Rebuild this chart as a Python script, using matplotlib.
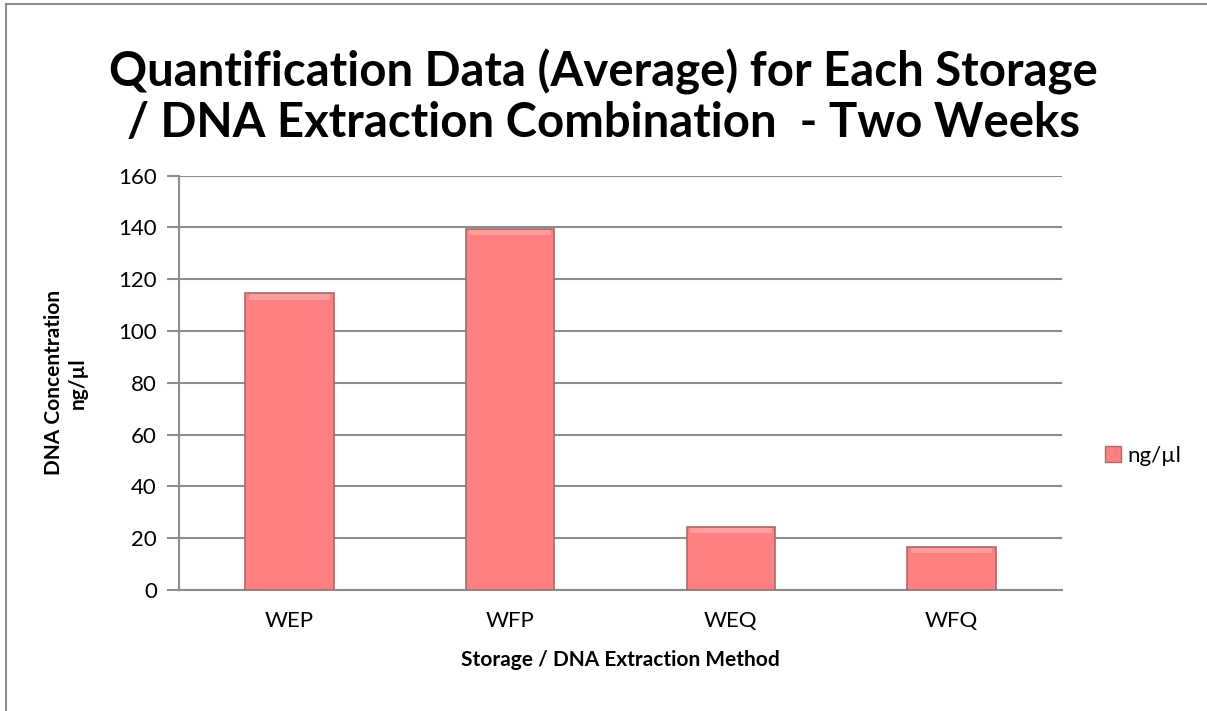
import matplotlib.pyplot as plt
import matplotlib.patches as mpatches
from matplotlib.lines import Line2D

categories = ['WEP', 'WFP', 'WEQ', 'WFQ']
values = [114.5, 139.5, 24.5, 16.5]
series_name = 'ng/µl'
y_ticks = [0, 20, 40, 60, 80, 100, 120, 140, 160]

plt.rcParams['font.family'] = ['Lato', 'DejaVu Sans']

fig = plt.figure(figsize=(12.07, 7.11), dpi=100)
ax = fig.add_axes([179 / 1207, 1 - 590 / 711, (1062 - 179) / 1207, (590 - 175.5) / 711])

x = range(len(categories))
bars = ax.bar(x, values, width=0.4, color='#FF8080', edgecolor='#A86A6A', linewidth=1.2, zorder=3)
# light bevel strip along the top of each bar
for b in bars:
    ax.add_patch(mpatches.Rectangle((b.get_x() + 0.015, b.get_height() - 2.4), b.get_width() - 0.03, 2.0,
                                    color='#FF9E9E', lw=0, zorder=4))

ax.set_xlim(-0.5, len(categories) - 0.5)
ax.set_ylim(0, 160)
ax.set_yticks(y_ticks)
ax.set_xticks(list(x))
ax.set_xticklabels(categories)
ax.yaxis.grid(True, color='#8C8C8C', linewidth=1.5, zorder=0)
ax.set_axisbelow(True)
for s in ['top', 'right']:
    ax.spines[s].set_visible(False)
ax.spines['left'].set_color('#8C8C8C')
ax.spines['left'].set_linewidth(1.5)
ax.spines['bottom'].set_color('#8C8C8C')
ax.spines['bottom'].set_linewidth(1.5)
ax.tick_params(axis='y', length=9, width=1.5, color='#8C8C8C', labelsize=16, pad=7)
ax.tick_params(axis='x', length=0, labelsize=16, pad=15)

ax.set_xlabel('Storage / DNA Extraction Method', fontsize=15, fontweight='bold', labelpad=14)
ax.set_ylabel('DNA Concentration\nng/µl', fontsize=15, fontweight='bold', labelpad=22)

fig.text(0.5, 1 - 97 / 711, 'Quantification Data (Average) for Each Storage\n/ DNA Extraction Combination  - Two Weeks',
         ha='center', va='center', fontsize=34, fontweight='bold', linespacing=1.15)

handle = mpatches.Patch(facecolor='#FF8080', edgecolor='#A86A6A', label=series_name)
fig.legend(handles=[handle], loc='center left', bbox_to_anchor=(1085 / 1207, 1 - 456 / 711),
           frameon=False, fontsize=16, handlelength=0.7, handleheight=0.7, handletextpad=0.3)

# outer chart border (top and left only, the rest is cut off)
fig.add_artist(Line2D([6 / 1207, 1.0], [1 - 4 / 711, 1 - 4 / 711], transform=fig.transFigure,
                      color='#8C8C8C', linewidth=1.5))
fig.add_artist(Line2D([6 / 1207, 6 / 1207], [0, 1 - 4 / 711], transform=fig.transFigure,
                      color='#8C8C8C', linewidth=1.5))

fig.savefig('out.png', dpi=100)
